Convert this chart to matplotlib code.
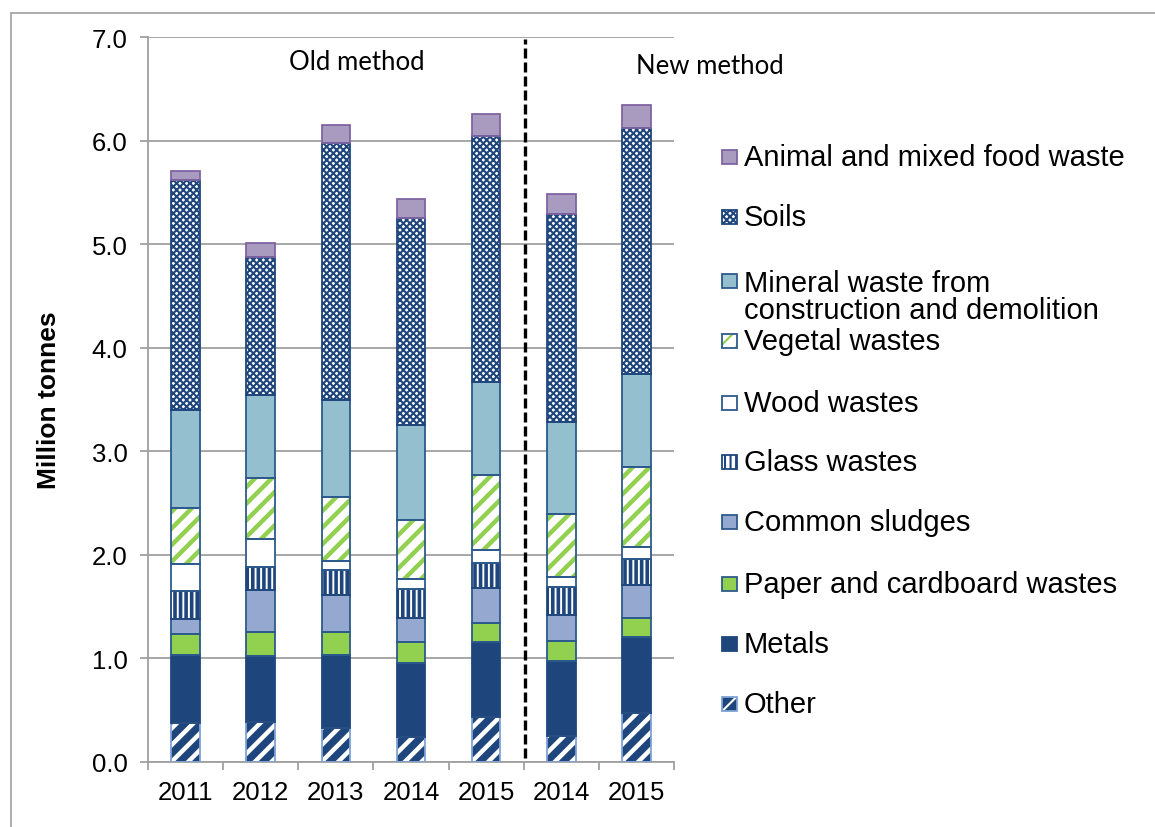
import numpy as np
import matplotlib
matplotlib.use("Agg")
import matplotlib.pyplot as plt
from matplotlib.patches import Rectangle

plt.rcParams["font.family"] = ["Liberation Sans", "DejaVu Sans"]

# million tonnes (bottom to top of each stack)
categories = ["2011", "2012", "2013", "2014", "2015", "2014", "2015"]
other = [0.38, 0.39, 0.33, 0.24, 0.43, 0.25, 0.47]
metals = [0.65, 0.63, 0.70, 0.72, 0.73, 0.73, 0.74]
paper = [0.21, 0.24, 0.23, 0.20, 0.18, 0.19, 0.18]
sludges = [0.14, 0.40, 0.35, 0.23, 0.34, 0.25, 0.32]
glass = [0.27, 0.22, 0.24, 0.28, 0.24, 0.27, 0.25]
wood = [0.26, 0.27, 0.09, 0.10, 0.13, 0.10, 0.12]
vegetal = [0.54, 0.59, 0.62, 0.57, 0.72, 0.60, 0.77]
mineral = [0.95, 0.80, 0.94, 0.91, 0.90, 0.89, 0.90]
soils = [2.22, 1.34, 2.48, 2.00, 2.37, 2.01, 2.37]
animal = [0.09, 0.13, 0.17, 0.19, 0.22, 0.19, 0.22]

labels = ["Other", "Metals", "Paper and cardboard wastes", "Common sludges", "Glass wastes",
          "Wood wastes", "Vegetal wastes", "Mineral waste from\nconstruction and demolition",
          "Soils", "Animal and mixed food waste"]
values = [other, metals, paper, sludges, glass, wood, vegetal, mineral, soils, animal]

navy = "#1F467C"
edge_navy = "#2D5A8C"
green = "#92D050"
# face, hatch, hatch colour, hatch linewidth, outline colour
styles = [
    (navy, "//", "white", 3.2, "#7FA3D6"),
    (navy, None, None, 0, navy),
    (green, None, None, 0, edge_navy),
    ("#95A9D0", None, None, 0, edge_navy),
    ("white", "|||", navy, 2.6, navy),
    ("white", None, None, 0, edge_navy),
    ("white", "//", green, 3.2, edge_navy),
    ("#93BFCE", None, None, 0, edge_navy),
    ("white", "xxxxx", navy, 1.5, navy),
    ("#A99BBF", None, None, 0, "#8064A2"),
]

W, H = 1155, 828
fig = plt.figure(figsize=(W / 100, H / 100), dpi=100)
ax = fig.add_axes([148 / W, 1 - 763 / H, (674 - 148) / W, (763 - 38) / H])

x = np.arange(len(categories))
width = 0.38
bottom = np.zeros(len(categories))
for vals, (face, hatch, hcolor, hlw, edge) in zip(values, styles):
    vals = np.array(vals)
    with plt.rc_context({"hatch.linewidth": hlw if hatch else 1.0}):
        bars = ax.bar(x, vals, width, bottom=bottom, color=face,
                      edgecolor=hcolor if hatch else face, linewidth=0, hatch=hatch, zorder=2)
    if hatch:
        for b in bars:
            if hasattr(b, "set_hatch_linewidth"):
                b.set_hatch_linewidth(hlw)
    ax.bar(x, vals, width, bottom=bottom, fill=False, edgecolor=edge, linewidth=1.3, zorder=3)
    bottom += vals

grey = "#A0A0A0"
ax.set_xlim(-0.5, len(categories) - 0.5)
ax.set_ylim(0, 7)
ax.set_yticks(np.arange(0, 8, 1))
ax.set_yticklabels(["%.1f" % v for v in np.arange(0, 8, 1)], fontsize=18.5)
ax.set_xticks(x)
ax.set_xticklabels(categories, fontsize=18.5)
ax.set_xticks(np.arange(-0.5, len(categories), 1), minor=True)
ax.tick_params(axis="x", which="major", length=0, pad=13)
ax.tick_params(axis="x", which="minor", length=5.5, width=1.3, color=grey)
ax.tick_params(axis="y", length=5.8, width=1.3, color=grey, pad=9)
ax.yaxis.grid(True, color=grey, linewidth=1.3)
ax.set_axisbelow(True)
for side in ["top", "right"]:
    ax.spines[side].set_visible(False)
for side in ["left", "bottom"]:
    ax.spines[side].set_color(grey)
    ax.spines[side].set_linewidth(1.3)
ax.set_ylabel("Million tonnes", fontsize=19, fontweight="bold", labelpad=22)

# method split
ax.plot([4.52, 4.52], [0.04, 6.98], color="black", linewidth=2.4, dashes=(3.0, 1.2), zorder=4)
ax.text(2.28, 6.76, "Old method", fontsize=18.5, family=["Lato", "DejaVu Sans"],
        ha="center", va="center")
ax.text(6.98, 6.72, "New method", fontsize=18.5, family=["Lato", "DejaVu Sans"],
        ha="center", va="center", clip_on=False)

# legend, top entry first
rows = [158, 218, 282, 342, 404, 463, 523, 585, 645, 705]
for row, label, (face, hatch, hcolor, hlw, edge) in zip(rows, labels[::-1], styles[::-1]):
    with plt.rc_context({"hatch.linewidth": min(hlw, 1.5) if hatch else 1.0}):
        fill = Rectangle((722 / W, 1 - (row + 7) / H), 15 / W, 14 / H, transform=fig.transFigure,
                         facecolor=face, edgecolor=hcolor if hatch else face, linewidth=0, hatch=hatch)
    fig.add_artist(fill)
    fig.add_artist(Rectangle((722 / W, 1 - (row + 7) / H), 15 / W, 14 / H, transform=fig.transFigure,
                             fill=False, edgecolor=edge, linewidth=1.3))
    if "\n" in label:
        fig.text(744 / W, 1 - (row + 15.5) / H, label, fontsize=21, ha="left", va="center",
                 linespacing=0.95)
    else:
        fig.text(744 / W, 1 - row / H, label, fontsize=21, ha="left", va="center")

# outer frame
fig.add_artist(Rectangle((11 / W, -0.1), 1.2, 1.1 - 14 / H, transform=fig.transFigure,
                         fill=False, edgecolor="#A6A6A6", linewidth=1.3))

fig.savefig("out.png", dpi=100)
